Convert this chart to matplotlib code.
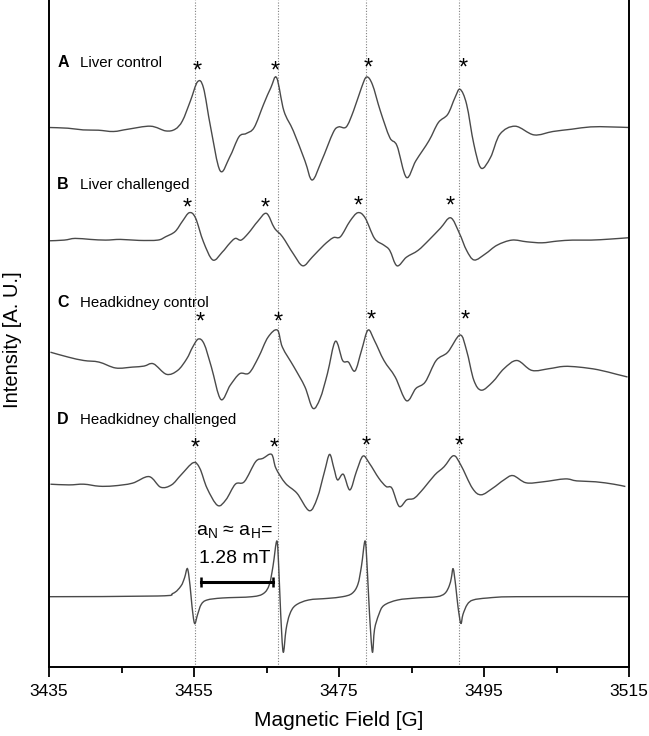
import numpy as np
import matplotlib
matplotlib.use("Agg")
import matplotlib.pyplot as plt
from matplotlib.path import Path
from matplotlib.patches import PathPatch

plt.rcParams['font.family'] = ['Liberation Sans', 'DejaVu Sans']

# spectra: field [G], intensity [A. U.] relative to each baseline
field_a = [3435.0, 3437.6, 3439.7, 3441.8, 3443.9, 3445.9, 3449.0, 3451.1, 3452.4, 3453.4,
           3454.5, 3455.5, 3456.3, 3457.3, 3458.6, 3459.9, 3461.2, 3462.2, 3463.3, 3464.6,
           3465.6, 3466.4, 3467.4, 3468.7, 3470.3, 3471.3, 3472.6, 3474.2, 3474.95, 3476.0,
           3477.0, 3478.1, 3478.8, 3479.6, 3480.7, 3482.0, 3483.0, 3484.3, 3485.6, 3487.4,
           3488.7, 3490.0, 3491.0, 3491.7, 3492.6, 3493.6, 3494.6, 3495.9, 3497.2, 3499.3,
           3501.9, 3504.5, 3507.1, 3509.7, 3512.3, 3515.0]
int_a = [0.5, -0.2, -1.9, -2.2, -3.5, -1.2, 1.8, -2.9, -1.2, 7.1,
         27.0, 46.3, 40.3, 0.5, -42.7, -29.4, -8.8, -5.5, 0.5, 23.7,
         40.3, 50.3, 17.1, -2.9, -32.8, -52.0, -32.8, -4.5, 1.1, 1.1,
         17.1, 40.3, 51.0, 43.6, 17.1, -9.5, -17.8, -49.4, -32.8, -12.8,
         5.4, 13.7, 30.4, 38.7, 23.7, -16.2, -40.1, -29.4, -6.2, 1.8,
         -6.9, -3.5, -1.2, 1.1, 1.1, 0.5]

field_b = [3435.0, 3437.1, 3438.6, 3440.7, 3442.8, 3444.85, 3447.4, 3450.0, 3451.1, 3452.4,
           3453.4, 3454.35, 3455.2, 3456.3, 3457.6, 3458.9, 3459.9, 3460.7, 3461.5, 3462.5,
           3463.8, 3465.0, 3466.1, 3467.2, 3468.7, 3470.0, 3471.3, 3472.9, 3474.2, 3475.2,
           3476.5, 3477.6, 3478.6, 3479.9, 3481.2, 3482.0, 3483.0, 3484.3, 3485.9, 3487.4,
           3489.0, 3490.4, 3491.6, 3492.6, 3493.65, 3495.2, 3496.8, 3498.85, 3500.9, 3503.0,
           3505.1, 3507.2, 3509.75, 3512.35, 3515.0]
int_b = [-0.8, -0.1, 1.6, 0.6, -0.1, 0.6, -0.4, -0.1, 3.3, 8.5,
         18.7, 27.3, 22.2, -1.8, -20.0, -12.1, -3.5, 1.6, -0.1, 6.8,
         18.7, 26.6, 11.9, 3.3, -13.8, -25.8, -17.2, -5.2, 2.3, 3.3,
         18.7, 27.3, 22.2, 1.6, -5.2, -10.4, -25.8, -17.2, -10.4, -0.1,
         11.9, 22.2, 6.8, -10.4, -20.0, -13.8, -5.2, -0.1, -1.8, -2.8,
         -1.1, -0.1, -0.1, 0.9, 2.3]

field_c = [3435.2, 3437.7, 3439.8, 3441.9, 3444.2, 3446.5, 3448.1, 3449.4, 3451.2, 3452.75,
           3454.0, 3454.8, 3455.6, 3456.4, 3457.4, 3458.7, 3460.0, 3461.3, 3462.6, 3463.9,
           3465.2, 3466.5, 3467.2, 3468.8, 3470.3, 3471.4, 3472.4, 3473.4, 3474.5, 3475.5,
           3476.3, 3477.2, 3478.1, 3479.0, 3479.9, 3481.2, 3482.75, 3484.3, 3485.6, 3486.9,
           3488.4, 3490.0, 3491.7, 3492.6, 3493.6, 3494.65, 3496.2, 3497.75, 3499.55, 3501.6,
           3503.95, 3506.0, 3508.1, 3510.7, 3513.3, 3514.8]
int_c = [12.8, 7.8, 4.5, 2.9, -3.0, -2.1, -1.1, 1.2, -9.3, -5.4,
         6.2, 17.7, 26.0, 21.0, -2.1, -34.4, -20.2, -8.7, -8.0, 7.8,
         27.7, 34.9, 17.7, -2.1, -21.9, -43.3, -33.4, -8.7, 23.7, 4.5,
         2.9, -6.0, 14.4, 34.9, 24.3, 4.5, -12.0, -35.7, -23.5, -16.9,
         4.5, 12.8, 30.0, 14.4, -15.3, -25.2, -16.9, -3.7, 4.5, -5.4,
         -3.7, -1.4, -2.1, -4.7, -9.3, -12.0]

field_d = [3435.2, 3437.75, 3439.8, 3441.9, 3443.9, 3446.5, 3448.8, 3450.4, 3451.9, 3453.2,
           3454.9, 3455.8, 3456.8, 3458.25, 3459.4, 3460.7, 3461.95, 3463.5, 3464.5, 3465.7,
           3466.3, 3467.6, 3469.2, 3470.9, 3472.0, 3473.0, 3473.7, 3474.3, 3474.8, 3475.6,
           3476.5, 3477.4, 3478.3, 3479.2, 3480.5, 3481.5, 3482.3, 3483.3, 3484.35, 3485.4,
           3486.7, 3488.2, 3489.5, 3490.8, 3491.8, 3493.4, 3494.6, 3496.2, 3497.75, 3499.0,
           3500.8, 3503.15, 3506.2, 3507.8, 3510.4, 3512.9, 3514.5]
int_d = [-1.2, -1.9, -1.2, -3.2, -2.9, -0.2, 6.4, -4.2, -1.9, 8.0,
         20.3, 14.7, -5.2, -22.4, -16.8, -1.2, 1.4, 21.3, 24.6, 28.6,
         14.7, -0.2, -10.2, -27.7, -15.1, 11.4, 28.6, 14.7, 3.1, 8.7,
         -6.9, 11.4, 26.9, 19.6, 4.7, -3.5, -5.2, -23.4, -16.8, -15.1,
         -5.2, 8.0, 16.3, 27.3, 18.0, -5.2, -11.8, -5.2, 3.1, 7.4,
         0.2, 1.2, 4.1, 2.1, 1.2, -1.2, -3.5]

field_sim = [3435.0, 3450.0, 3452.1, 3453.2, 3453.7, 3454.1, 3454.46, 3454.72, 3455.08, 3455.5,
             3456.0, 3456.8, 3458.9, 3463.0, 3464.6, 3465.4, 3465.9, 3466.43, 3466.7, 3466.95,
             3467.3, 3467.7, 3468.2, 3469.0, 3470.8, 3473.4, 3475.5, 3476.8, 3477.6, 3478.1,
             3478.6, 3478.9, 3479.2, 3479.6, 3479.9, 3480.5, 3481.2, 3483.1, 3485.7, 3488.5,
             3489.6, 3490.2, 3490.5, 3490.75, 3491.1, 3491.4, 3491.8, 3492.1, 3492.7, 3493.5,
             3495.5, 3499.4, 3515.0]
int_sim = [0.0, 0.7, 3.3, 10.7, 19.0, 28.0, 10.7, -9.3, -26.7, -17.7,
           -7.7, -3.3, -1.3, 0.0, 3.3, 12.3, 30.7, 55.7, 27.3, -16.0,
           -55.3, -32.7, -17.7, -8.7, -3.3, -1.7, 0.0, 3.3, 12.3, 30.7,
           55.7, 27.3, -16.0, -55.3, -32.7, -17.7, -8.7, -3.3, -1.3, 0.0,
           3.3, 10.7, 19.0, 28.0, 10.7, -9.3, -26.7, -17.7, -7.7, -3.3,
           -1.3, 0.0, 0.0]

letters = ['A', 'B', 'C', 'D']
names = ['Liver control', 'Liver challenged', 'Headkidney control', 'Headkidney challenged']

# asterisk field positions per spectrum
star_fields = [[3455.4, 3466.2, 3479.0, 3492.2],
               [3454.0, 3464.8, 3477.7, 3490.4],
               [3455.8, 3466.6, 3479.4, 3492.4],
               [3455.2, 3466.1, 3478.8, 3491.6]]

guide_fields = [3455.2, 3466.6, 3478.7, 3491.6]

# layout (vertical stacking in A. U.)
offsets = [539, 427, 302, 184]
sim_offset = 70.3
star_y = [[589, 589, 592, 592], [452, 452, 454, 454], [338, 338, 340, 340], [212, 212, 214, 214]]
label_y = [600, 478, 360, 243]

line_col = '#4a4a4a'


def smooth_curve(ax, x, y, **kw):
    # Catmull-Rom segments drawn as cubic Bezier through the read points
    p = np.column_stack([x, y])
    q = np.vstack([p[0], p, p[-1]])
    verts = [p[0]]
    codes = [Path.MOVETO]
    for i in range(1, len(q) - 2):
        c1 = q[i] + (q[i + 1] - q[i - 1]) / 6.0
        c2 = q[i + 1] - (q[i + 2] - q[i]) / 6.0
        verts += [c1, c2, q[i + 1]]
        codes += [Path.CURVE4] * 3
    ax.add_patch(PathPatch(Path(verts, codes), fill=False, **kw))


fig = plt.figure(figsize=(6.49, 7.36), dpi=100)
ax = fig.add_axes([49/649, 69/736, 580/649, 667/736])

for g in guide_fields:
    ax.axvline(g, color='#808080', ls=(0, (1, 1.5)), lw=0.8, zorder=1)

spectra = [(field_a, int_a), (field_b, int_b), (field_c, int_c), (field_d, int_d)]
for i, (f, y) in enumerate(spectra):
    smooth_curve(ax, f, np.array(y) + offsets[i], edgecolor=line_col, lw=1.0, zorder=2)
    for sf, sy in zip(star_fields[i], star_y[i]):
        ax.text(sf, sy, '*', ha='center', va='baseline', fontsize=17, color='black')
    ax.text(3436.15, label_y[i], letters[i], fontsize=11.5, fontweight='bold', va='baseline')
    ax.text(3439.3, label_y[i], names[i], fontsize=10.8, va='baseline')

smooth_curve(ax, field_sim, np.array(int_sim) + sim_offset, edgecolor=line_col, lw=1.0, zorder=2)

# hyperfine splitting bar
ax.plot([3455.9, 3465.9], [84.7, 84.7], color='black', lw=2.2, marker='|', ms=7, mew=1.8)
ax.text(3460.6, 131, r'a$_\mathregular{N}$ ≈ a$_\mathregular{H}$=', ha='center', va='baseline', fontsize=14)
ax.text(3460.6, 104, '1.28 mT', ha='center', va='baseline', fontsize=14)

ax.set_xlim(3435, 3515)
ax.set_ylim(0, 667)
ax.set_xticks([3435, 3455, 3475, 3495, 3515])
ax.set_xticks([3445, 3465, 3485, 3505], minor=True)
ax.set_yticks([])
ax.tick_params(axis='x', which='major', direction='out', length=7, width=1.3, labelsize=12.5, pad=5)
ax.tick_params(axis='x', which='minor', direction='out', length=4, width=1.3)
ax.spines['top'].set_visible(False)
for s in ['left', 'right', 'bottom']:
    ax.spines[s].set_linewidth(1.4)

ax.set_xlabel('Magnetic Field [G]', fontsize=15)
ax.xaxis.set_label_coords(0.5, -0.066)
ax.set_ylabel('Intensity [A. U.]', fontsize=14.5)
ax.yaxis.set_label_coords(-0.046, 0.49)

fig.savefig('out.png', dpi=100)
